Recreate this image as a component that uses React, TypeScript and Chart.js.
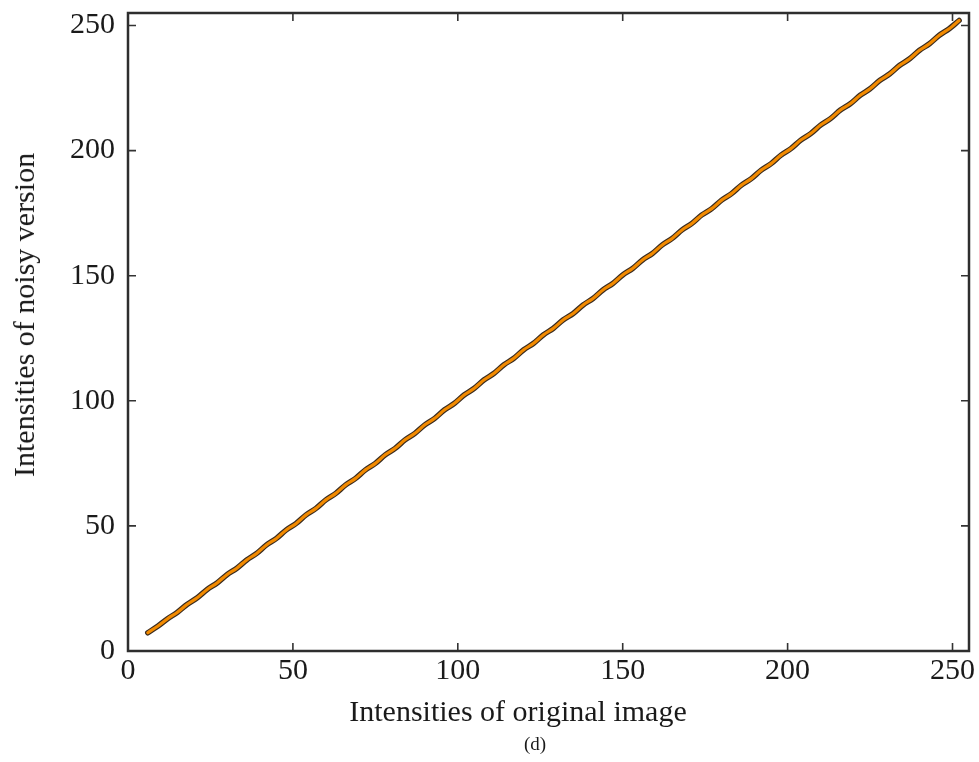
import React, { useEffect, useRef } from "react";
import { Chart, registerables } from "chart.js";

Chart.register(...registerables);

// Data
const xValues: number[] = [
  6, 9, 12, 15, 18, 21, 24, 27, 30, 33, 36, 39, 42, 45, 48, 51, 54, 57, 60, 63,
  66, 69, 72, 75, 78, 81, 84, 87, 90, 93, 96, 99, 102, 105, 108, 111, 114, 117,
  120, 123, 126, 129, 132, 135, 138, 141, 144, 147, 150, 153, 156, 159, 162, 165,
  168, 171, 174, 177, 180, 183, 186, 189, 192, 195, 198, 201, 204, 207, 210, 213,
  216, 219, 222, 225, 228, 231, 234, 237, 240, 243, 246, 249, 252,
];
const yValues: number[] = [
  7.3, 9.9, 12.9, 15.5, 18.7, 21.3, 24.6, 27.2, 30.5, 33.1, 36.4, 39.0, 42.4, 45.0,
  48.4, 51.0, 54.4, 57.0, 60.4, 63.0, 66.4, 69.0, 72.4, 75.0, 78.4, 81.0, 84.4,
  87.0, 90.4, 93.0, 96.4, 99.0, 102.4, 105.0, 108.4, 111.0, 114.4, 117.0, 120.4,
  123.0, 126.4, 129.0, 132.4, 134.9, 138.3, 140.9, 144.3, 146.9, 150.3, 152.9,
  156.3, 158.9, 162.3, 164.9, 168.3, 170.9, 174.3, 176.8, 180.2, 182.8, 186.2,
  188.8, 192.2, 194.8, 198.2, 200.8, 204.2, 206.8, 210.2, 212.8, 216.2, 218.7,
  222.1, 224.7, 228.1, 230.7, 234.1, 236.7, 240.1, 242.7, 246.1, 248.7, 252.0,
];
const tickValues: number[] = [0, 50, 100, 150, 200, 250];
const xTitle = "Intensities of original image";
const yTitle = "Intensities of noisy version";
const caption = "(d)";

const FONT = "'Liberation Serif', 'Times New Roman', serif";

const frameAndTicks = {
  id: "frameAndTicks",
  afterDraw(chart: any) {
    const { ctx, chartArea } = chart;
    const { left, right, top, bottom } = chartArea;
    const xs = chart.scales.x;
    const ys = chart.scales.y;
    const len = 8;
    ctx.save();
    ctx.strokeStyle = "#333333";
    ctx.lineWidth = 1.6;
    ctx.beginPath();
    xs.ticks.forEach((t: any) => {
      const px = xs.getPixelForValue(t.value);
      ctx.moveTo(px, bottom);
      ctx.lineTo(px, bottom - len);
      ctx.moveTo(px, top);
      ctx.lineTo(px, top + len);
    });
    ys.ticks.forEach((t: any) => {
      const py = ys.getPixelForValue(t.value);
      ctx.moveTo(left, py);
      ctx.lineTo(left + len, py);
      ctx.moveTo(right, py);
      ctx.lineTo(right - len, py);
    });
    ctx.stroke();
    ctx.lineWidth = 2.5;
    ctx.strokeStyle = "#2e2e2e";
    ctx.strokeRect(left, top, right - left, bottom - top);
    ctx.restore();
  },
};

export default function App() {
  const ref = useRef<HTMLCanvasElement | null>(null);

  useEffect(() => {
    if (!ref.current) return;
    const pts = xValues.map((x, i) => ({ x, y: yValues[i] }));
    const chart = new Chart(ref.current, {
      type: "line",
      data: {
        datasets: [
          {
            data: pts,
            borderColor: "#f28a00",
            borderWidth: 3.2,
            pointRadius: 0,
            tension: 0.3,
            borderCapStyle: "round",
            order: 0,
          },
          {
            data: pts,
            borderColor: "#3a2c20",
            borderWidth: 5.5,
            pointRadius: 0,
            tension: 0.3,
            borderCapStyle: "round",
            order: 1,
          },
        ],
      },
      options: {
        animation: false,
        responsive: true,
        maintainAspectRatio: false,
        layout: { padding: { left: 0, top: 13, right: 10, bottom: 0 } },
        plugins: {
          legend: { display: false },
          tooltip: { enabled: false },
        },
        scales: {
          x: {
            type: "linear",
            min: 0,
            max: 255,
            grid: { display: false, drawTicks: false },
            border: { display: false },
            afterBuildTicks: (s: any) => {
              s.ticks = tickValues.map((v) => ({ value: v }));
            },
            afterFit: (s: any) => {
              s.height = 111;
              s.paddingLeft = 0;
              s.paddingRight = 0;
            },
            ticks: {
              padding: 2,
              maxRotation: 0,
              color: "#1a1a1a",
              font: { family: FONT, size: 30 },
            },
          },
          y: {
            type: "linear",
            min: 0,
            max: 255,
            grid: { display: false, drawTicks: false },
            border: { display: false },
            afterBuildTicks: (s: any) => {
              s.ticks = tickValues.map((v) => ({ value: v }));
            },
            afterFit: (s: any) => {
              s.width = 128;
              s.paddingTop = 0;
              s.paddingBottom = 0;
            },
            ticks: {
              padding: 13,
              color: "#1a1a1a",
              font: { family: FONT, size: 30 },
            },
          },
        },
      },
      plugins: [frameAndTicks],
    });
    return () => chart.destroy();
  }, []);

  return (
    <div
      style={{
        position: "fixed",
        left: 0,
        top: 0,
        width: 979,
        height: 762,
        background: "#ffffff",
        overflow: "hidden",
      }}
    >
      <canvas ref={ref} />
      <div
        style={{
          position: "absolute",
          left: 24,
          top: 315,
          transform: "translate(-50%, -50%) rotate(-90deg)",
          whiteSpace: "nowrap",
          fontFamily: FONT,
          fontSize: 30,
          lineHeight: "30px",
          color: "#1a1a1a",
        }}
      >
        {yTitle}
      </div>
      <div
        style={{
          position: "absolute",
          left: 518,
          top: 696,
          transform: "translateX(-50%)",
          whiteSpace: "nowrap",
          fontFamily: FONT,
          fontSize: 30,
          lineHeight: "30px",
          color: "#1a1a1a",
        }}
      >
        {xTitle}
      </div>
      <div
        style={{
          position: "absolute",
          left: 535,
          top: 734,
          transform: "translateX(-50%)",
          whiteSpace: "nowrap",
          fontFamily: FONT,
          fontSize: 19,
          lineHeight: "19px",
          color: "#1a1a1a",
        }}
      >
        {caption}
      </div>
    </div>
  );
}
